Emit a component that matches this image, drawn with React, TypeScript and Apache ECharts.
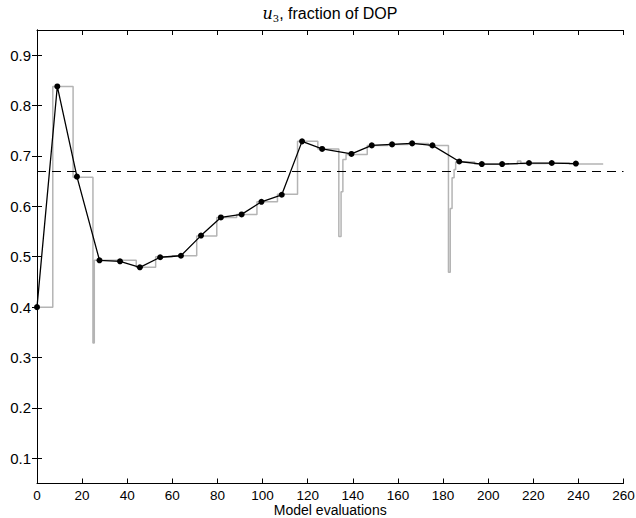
import React, { useEffect, useRef } from "react";
import * as echarts from "echarts";

// Black markers: evaluation index and fraction of DOP
const evalX = [0, 9, 17.7, 27.7, 36.8, 45.6, 54.6, 63.8, 72.7, 81.5, 90.7, 99.5, 108.5, 117.5, 126.4, 139.4, 148.4, 157.4, 166.3, 175.3, 187.2, 197.2, 206.2, 218.1, 228.2, 238.9];
const evalY = [0.4, 0.838, 0.659, 0.493, 0.491, 0.479, 0.499, 0.502, 0.542, 0.578, 0.584, 0.609, 0.623, 0.729, 0.714, 0.704, 0.721, 0.723, 0.725, 0.721, 0.689, 0.684, 0.684, 0.686, 0.686, 0.685];

// Gray step trace: value holds from each x until the next one
const stepX = [0, 7.0, 16.0, 24.8, 25.4, 44.0, 52.6, 60, 70.8, 79.7, 88.5, 97.5, 106.6, 115.5, 124.5, 133.8, 134.8, 135.6, 137.0, 146.4, 155.5, 164.5, 173.5, 182.4, 183.2, 184.0, 184.9, 185.6, 194, 213, 214.5, 225, 236, 251];
const stepY = [0.4, 0.838, 0.658, 0.329, 0.493, 0.479, 0.5, 0.502, 0.541, 0.578, 0.584, 0.609, 0.624, 0.729, 0.714, 0.54, 0.629, 0.693, 0.703, 0.721, 0.723, 0.725, 0.721, 0.469, 0.596, 0.657, 0.673, 0.688, 0.684, 0.69, 0.685, 0.686, 0.684, 0.685];

const targetLevel = 0.67;
const yTicks = [0.1, 0.2, 0.3, 0.4, 0.5, 0.6, 0.7, 0.8, 0.9];
const xTicks = [0, 20, 40, 60, 80, 100, 120, 140, 160, 180, 200, 220, 240, 260];

const FONT = "'Liberation Sans', Arial, Helvetica, sans-serif";
const SERIF = "'DejaVu Serif', 'Liberation Serif', serif";

export default function App() {
  const ref = useRef<HTMLDivElement>(null);
  useEffect(() => {
    if (!ref.current) return;
    const chart = echarts.init(ref.current, undefined, { renderer: "svg" });
    const axisLine = { show: true, lineStyle: { color: "#000", width: 1 } };
    const tick = { show: true, inside: true, length: 5, lineStyle: { color: "#000", width: 1 } };
    chart.setOption({
      animation: false,
      backgroundColor: "#fff",
      title: {
        text: "{u|u}{s|3}{r|, fraction of DOP}",
        left: 330,
        textAlign: "center",
        top: 3,
        padding: 0,
        textStyle: {
          fontWeight: "normal",
          rich: {
            u: { fontFamily: SERIF, fontStyle: "italic", fontWeight: "normal", fontSize: 16, color: "#000", lineHeight: 20, verticalAlign: "middle" },
            s: { fontFamily: SERIF, fontWeight: "normal", fontSize: 10, color: "#000", lineHeight: 10, verticalAlign: "bottom" },
            r: { fontFamily: FONT, fontWeight: "normal", fontSize: 16, color: "#000", lineHeight: 20, verticalAlign: "middle" },
          },
        },
      },
      grid: { left: 37, right: 12.5, top: 30, bottom: 34.5, containLabel: false, outerBoundsMode: "none" },
      xAxis: [
        {
          type: "value",
          min: 0,
          max: 260,
          interval: 20,
          position: "bottom",
          axisLine,
          axisTick: tick,
          splitLine: { show: false },
          axisLabel: { color: "#000", fontFamily: FONT, fontSize: 13.5, margin: 5, customValues: xTicks },
          name: "Model evaluations",
          nameLocation: "middle",
          nameGap: 19,
          nameMoveOverlap: false,
          nameTextStyle: { color: "#000", fontFamily: FONT, fontSize: 14, lineHeight: 14 },
        },
        {
          type: "value",
          min: 0,
          max: 260,
          interval: 20,
          position: "top",
          axisLine,
          axisTick: tick,
          splitLine: { show: false },
          axisLabel: { show: false },
        },
      ],
      yAxis: [
        {
          type: "value",
          min: 0.05,
          max: 0.95,
          position: "left",
          axisLine,
          axisTick: { ...tick, customValues: yTicks },
          splitLine: { show: false },
          axisLabel: {
            color: "#000",
            fontFamily: FONT,
            fontSize: 15,
            margin: 6,
            customValues: yTicks,
            formatter: (v: number) => v.toFixed(1),
          },
        },
        {
          type: "value",
          min: 0.05,
          max: 0.95,
          position: "right",
          axisLine,
          axisTick: { ...tick, customValues: yTicks },
          splitLine: { show: false },
          axisLabel: { show: false },
        },
      ],
      series: [
        {
          type: "line",
          step: "end",
          data: stepX.map((x, i) => [x, stepY[i]]),
          showSymbol: false,
          symbol: "none",
          lineStyle: { color: "#b4b4b4", width: 1.5 },
          z: 1,
          markLine: {
            silent: true,
            symbol: "none",
            label: { show: false },
            lineStyle: { color: "#000", type: [9, 6], width: 1.2 },
            data: [{ yAxis: targetLevel }],
          },
        },
        {
          type: "line",
          data: evalX.map((x, i) => [x, evalY[i]]),
          symbol: "circle",
          symbolSize: 6,
          itemStyle: { color: "#000" },
          lineStyle: { color: "#000", width: 1.3 },
          z: 3,
        },
      ],
    });
    return () => chart.dispose();
  }, []);
  return <div ref={ref} style={{ position: "absolute", left: 0, top: 0, width: 636, height: 518 }} />;
}
